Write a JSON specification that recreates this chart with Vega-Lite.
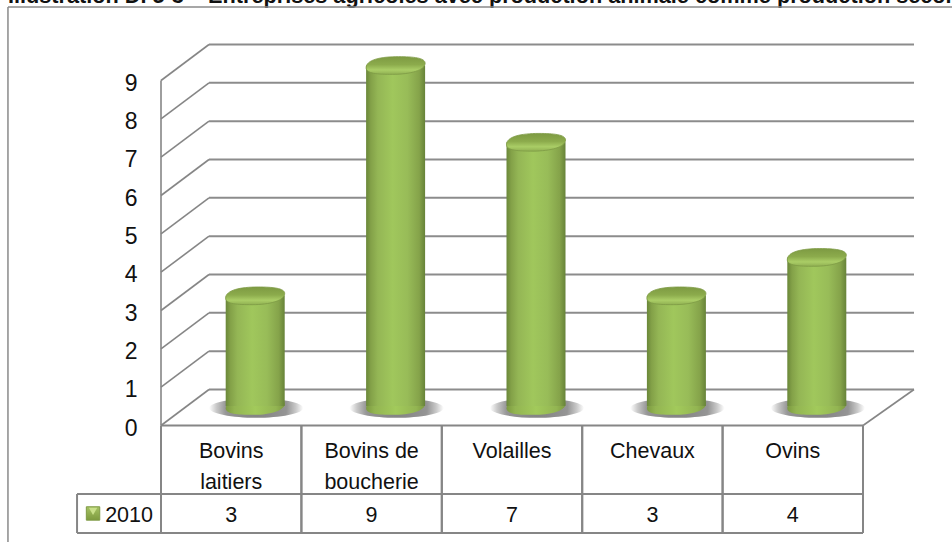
{
"$schema":"https://vega.github.io/schema/vega-lite/v6.json",
"width":952,"height":542,"padding":0,"autosize":{"type":"none"},
"background":"white",
"config":{"view":{"stroke":null},"font":"Liberation Sans"},
"datasets":{
"rows":[
{"cat":"Bovins laitiers","label":"Bovins\nlaitiers","value":3,"series":"2010"},
{"cat":"Bovins de boucherie","label":"Bovins de\nboucherie","value":9,"series":"2010"},
{"cat":"Volailles","label":"Volailles","value":7,"series":"2010"},
{"cat":"Chevaux","label":"Chevaux","value":3,"series":"2010"},
{"cat":"Ovins","label":"Ovins","value":4,"series":"2010"}],
"ticks":[{"v":0},{"v":1},{"v":2},{"v":3},{"v":4},{"v":5},{"v":6},{"v":7},{"v":8},{"v":9}],
"one":[{"series":"2010","heading":"Illustration D. 5-3 – Entreprises agricoles avec production animale comme production secondaire"}]
},
"resolve":{"scale":{"x":"independent","y":"independent"},"axis":{"x":"independent","y":"independent"}},
"layer":[
{"data":{"name":"one"},"mark":{"type":"text","align":"left","baseline":"alphabetic","font":"Liberation Sans","fontSize":21.7,"fontWeight":"bold","fill":"#111111"},
 "encoding":{"x":{"datum":-1.09,"type":"quantitative","scale":{"domain":[0,5],"range":[161,863]},"axis":null},"y":{"datum":11.015,"type":"quantitative","scale":{"domain":[0,9],"range":[425.5,80.5]},"axis":null},"text":{"field":"heading"}}},
{"data":{"name":"one"},"mark":{"type":"rule","stroke":"#8a8a8a","strokeWidth":1.5},
 "encoding":{"x":{"datum":-1.09,"type":"quantitative","scale":{"domain":[0,5],"range":[161,863]},"axis":null},"y":{"datum":10.92,"type":"quantitative","scale":{"domain":[0,9],"range":[425.5,80.5]},"axis":null},"y2":{"datum":-3.1}}},
{"data":{"name":"one"},"mark":{"type":"rule","stroke":"#8a8a8a","strokeWidth":1.5},
 "encoding":{"x":{"datum":-1.09,"type":"quantitative","scale":{"domain":[0,5],"range":[161,863]},"axis":null},"x2":{"datum":5.64},"y":{"datum":10.92,"type":"quantitative","scale":{"domain":[0,9],"range":[425.5,80.5]},"axis":null}}},
{"data":{"name":"ticks"},"mark":{"type":"rule","stroke":"#868686","strokeWidth":1.6,"x2Offset":48,"y2Offset":-36},
 "encoding":{"x":{"datum":0,"type":"quantitative","scale":{"domain":[0,5],"range":[161,863]},"axis":null},"x2":{"datum":0},
 "y":{"field":"v","type":"quantitative","scale":{"domain":[0,9],"range":[425.5,80.5]},
   "axis":{"orient":"left","offset":-137,"values":[0,1,2,3,4,5,6,7,8,9],"domain":false,"ticks":false,"grid":false,"title":null,"labelPadding":0,"labelOffset":2.5,"labelFont":"Liberation Sans","labelFontSize":23,"labelColor":"#111111","format":"d","labelBaseline":"middle"}},
 "y2":{"field":"v"}}},
{"data":{"name":"ticks"},"mark":{"type":"rule","stroke":"#8c8c8c","strokeWidth":2,"xOffset":48,"x2Offset":51,"yOffset":-36,"y2Offset":-36},
 "encoding":{"x":{"datum":0,"type":"quantitative","scale":{"domain":[0,5],"range":[161,863]},"axis":null},"x2":{"datum":5},
 "y":{"field":"v","type":"quantitative","scale":{"domain":[0,9],"range":[425.5,80.5]},"axis":null}}},
{"data":{"name":"one"},"mark":{"type":"rule","stroke":"#868686","strokeWidth":1.6,"x2Offset":51,"y2Offset":-36},
 "encoding":{"x":{"datum":5,"type":"quantitative","scale":{"domain":[0,5],"range":[161,863]},"axis":null},"x2":{"datum":5},"y":{"datum":0,"type":"quantitative","scale":{"domain":[0,9],"range":[425.5,80.5]},"axis":null},"y2":{"datum":0}}},
{"data":{"name":"one"},"mark":{"type":"rule","stroke":"#868686","strokeWidth":1.6},
 "encoding":{"x":{"datum":0,"type":"quantitative","scale":{"domain":[0,5],"range":[161,863]},"axis":null},"y":{"datum":0,"type":"quantitative","scale":{"domain":[0,9],"range":[425.5,80.5]},"axis":null},"y2":{"datum":9}}},
{"data":{"name":"one"},"mark":{"type":"rule","stroke":"#868686","strokeWidth":2},
 "encoding":{"x":{"datum":0,"type":"quantitative","scale":{"domain":[0,5],"range":[161,863]},"axis":null},"x2":{"datum":5},"y":{"datum":0,"type":"quantitative","scale":{"domain":[0,9],"range":[425.5,80.5]},"axis":null}}},
{"data":{"name":"one"},"mark":{"type":"rule","stroke":"#868686","strokeWidth":2},
 "encoding":{"x":{"datum":-0.598,"type":"quantitative","scale":{"domain":[0,5],"range":[161,863]},"axis":null},"x2":{"datum":5},"y":{"datum":-1.787,"type":"quantitative","scale":{"domain":[0,9],"range":[425.5,80.5]},"axis":null}}},
{"data":{"name":"one"},"mark":{"type":"rule","stroke":"#868686","strokeWidth":2},
 "encoding":{"x":{"datum":-0.598,"type":"quantitative","scale":{"domain":[0,5],"range":[161,863]},"axis":null},"x2":{"datum":5},"y":{"datum":-2.805,"type":"quantitative","scale":{"domain":[0,9],"range":[425.5,80.5]},"axis":null}}},
{"data":{"name":"one"},"mark":{"type":"rule","stroke":"#868686","strokeWidth":2},
 "encoding":{"x":{"datum":-0.598,"type":"quantitative","scale":{"domain":[0,5],"range":[161,863]},"axis":null},"y":{"datum":-1.787,"type":"quantitative","scale":{"domain":[0,9],"range":[425.5,80.5]},"axis":null},"y2":{"datum":-2.805}}},
{"data":{"name":"rows"},"mark":{"type":"rule","stroke":"#868686","strokeWidth":2},
 "encoding":{"x":{"field":"cat","type":"nominal","sort":null,"bandPosition":0,"scale":{"type":"band","range":[161,863],"paddingInner":0,"paddingOuter":0},"axis":null},"y":{"datum":0,"type":"quantitative","scale":{"domain":[0,9],"range":[425.5,80.5]},"axis":null},"y2":{"datum":-2.805}}},
{"data":{"name":"rows"},"mark":{"type":"rule","stroke":"#868686","strokeWidth":2},
 "encoding":{"x":{"field":"cat","type":"nominal","sort":null,"bandPosition":1,"scale":{"type":"band","range":[161,863],"paddingInner":0,"paddingOuter":0},"axis":null},"y":{"datum":0,"type":"quantitative","scale":{"domain":[0,9],"range":[425.5,80.5]},"axis":null},"y2":{"datum":-2.805}}},
{"data":{"name":"rows"},"mark":{"type":"point","filled":true,"opacity":1,"strokeWidth":0,"size":8836,"xOffset":25,"yOffset":-3,
  "shape":"M -1 0 C -1 -.12 -.5 -.21 0 -.21 C .5 -.21 1 -.12 1 0 C 1 .12 .5 .21 0 .21 C -.5 .21 -1 .12 -1 0 Z",
  "fill":{"gradient":"radial","x1":0.5,"y1":0.5,"r1":0,"x2":0.5,"y2":0.5,"r2":0.5,"stops":[{"offset":0,"color":"#808080"},{"offset":0.65,"color":"#959595"},{"offset":0.85,"color":"#cacaca"},{"offset":1,"color":"#ffffff"}]}},
 "encoding":{"x":{"field":"cat","type":"nominal","sort":null,"scale":{"type":"band","range":[161,863],"paddingInner":0,"paddingOuter":0},"axis":null},"y":{"datum":0,"type":"quantitative","scale":{"domain":[0,9],"range":[411,65.5]},"axis":null}}},
{"data":{"name":"rows"},"mark":{"type":"point","filled":true,"opacity":1,"strokeWidth":0,"size":3481,"xOffset":24,"yOffset":-5,
  "shape":"M -1 .08 C -1 -.2 -.5 -.3 .1 -.3 C .6 -.3 1 -.26 1 -.08 C 1 .16 .5 .3 -.1 .3 C -.6 .3 -1 .28 -1 .08 Z",
  "fill":{"gradient":"linear","x1":0,"y1":0,"x2":1,"y2":0,"stops":[{"offset":0,"color":"#7c9a40"},{"offset":0.15,"color":"#93b552"},{"offset":0.5,"color":"#a2ca5b"},{"offset":0.85,"color":"#93b552"},{"offset":1,"color":"#7c9a40"}]}},
 "encoding":{"x":{"field":"cat","type":"nominal","sort":null,"scale":{"type":"band","range":[161,863],"paddingInner":0,"paddingOuter":0},"axis":null},"y":{"datum":0,"type":"quantitative","scale":{"domain":[0,9],"range":[411,65.5]},"axis":null}}},
{"data":{"name":"rows"},"mark":{"type":"bar","width":59,"xOffset":24,"y2Offset":-5,
  "fill":{"gradient":"linear","x1":0,"y1":0,"x2":1,"y2":0,"stops":[{"offset":0,"color":"#6a8739"},{"offset":0.08,"color":"#83a148"},{"offset":0.2,"color":"#94b655"},{"offset":0.45,"color":"#a0c75c"},{"offset":0.7,"color":"#98bc58"},{"offset":0.9,"color":"#85a34a"},{"offset":1,"color":"#678339"}]}},
 "encoding":{"x":{"field":"cat","type":"nominal","sort":null,"scale":{"type":"band","range":[161,863],"paddingInner":0,"paddingOuter":0},"axis":null},"y":{"field":"value","type":"quantitative","stack":null,"scale":{"domain":[0,9],"range":[411,65.5]},"axis":null},"y2":{"datum":0}}},
{"data":{"name":"rows"},"mark":{"type":"point","filled":true,"opacity":1,"stroke":"#7d9a45","strokeWidth":0.8,"size":3481,"xOffset":24,
  "shape":"M -1 .08 C -1 -.2 -.5 -.3 .1 -.3 C .6 -.3 1 -.26 1 -.08 C 1 .16 .5 .3 -.1 .3 C -.6 .3 -1 .28 -1 .08 Z",
  "fill":{"gradient":"linear","x1":0,"y1":0,"x2":0,"y2":1,"stops":[{"offset":0,"color":"#7d9a42"},{"offset":0.45,"color":"#8cab4c"},{"offset":0.75,"color":"#aacd66"},{"offset":1,"color":"#90b052"}]}},
 "encoding":{"x":{"field":"cat","type":"nominal","sort":null,"scale":{"type":"band","range":[161,863],"paddingInner":0,"paddingOuter":0},"axis":null},"y":{"field":"value","type":"quantitative","scale":{"domain":[0,9],"range":[411,65.5]},"axis":null}}},
{"data":{"name":"rows"},"mark":{"type":"text","lineBreak":"\n","lineHeight":31,"align":"center","baseline":"alphabetic","font":"Liberation Sans","fontSize":21.5,"fill":"#111111"},
 "encoding":{"x":{"field":"cat","type":"nominal","sort":null,"scale":{"type":"band","range":[161,863],"paddingInner":0,"paddingOuter":0},"axis":null},"y":{"datum":-0.848,"type":"quantitative","scale":{"domain":[0,9],"range":[425.5,80.5]},"axis":null},"text":{"field":"label"}}},
{"data":{"name":"rows"},"mark":{"type":"text","align":"center","baseline":"alphabetic","font":"Liberation Sans","fontSize":21.5,"fill":"#111111"},
 "encoding":{"x":{"field":"cat","type":"nominal","sort":null,"scale":{"type":"band","range":[161,863],"paddingInner":0,"paddingOuter":0},"axis":null},"y":{"datum":-2.53,"type":"quantitative","scale":{"domain":[0,9],"range":[425.5,80.5]},"axis":null},"text":{"field":"value","type":"quantitative"}}},
{"data":{"name":"one"},"mark":{"type":"text","align":"right","baseline":"alphabetic","font":"Liberation Sans","fontSize":21.5,"fill":"#111111"},
 "encoding":{"x":{"datum":-0.057,"type":"quantitative","scale":{"domain":[0,5],"range":[161,863]},"axis":null},"y":{"datum":-2.53,"type":"quantitative","scale":{"domain":[0,9],"range":[425.5,80.5]},"axis":null},"text":{"field":"series"}}},
{"data":{"name":"one"},"mark":{"type":"point","shape":"square","filled":true,"opacity":1,"size":180,"stroke":"#7f9a45","strokeWidth":1,
  "fill":{"gradient":"linear","x1":0,"y1":0,"x2":0,"y2":1,"stops":[{"offset":0,"color":"#a5c263"},{"offset":1,"color":"#7d9a3e"}]}},
 "encoding":{"x":{"datum":-0.484,"type":"quantitative","scale":{"domain":[0,5],"range":[161,863]},"axis":null},"y":{"datum":-2.295,"type":"quantitative","scale":{"domain":[0,9],"range":[425.5,80.5]},"axis":null}}},
{"data":{"name":"one"},"mark":{"type":"point","shape":"triangle-down","filled":true,"opacity":1,"size":70,"strokeWidth":0,"fill":"#c9e08a","yOffset":-2},
 "encoding":{"x":{"datum":-0.484,"type":"quantitative","scale":{"domain":[0,5],"range":[161,863]},"axis":null},"y":{"datum":-2.295,"type":"quantitative","scale":{"domain":[0,9],"range":[425.5,80.5]},"axis":null}}}
]
}
